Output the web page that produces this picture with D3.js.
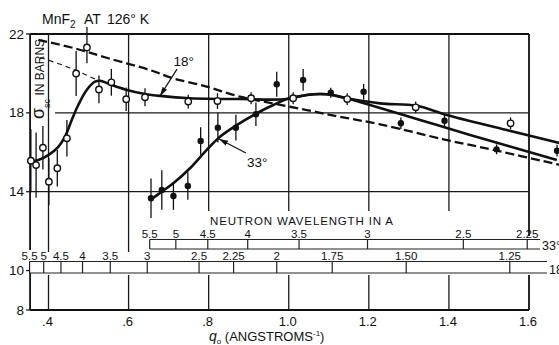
<!DOCTYPE html>
<html>
<head>
  <meta charset="UTF-8">
  <title>MnF2 at 126 K - scattering cross section</title>
  <script src="https://d3js.org/d3.v7.min.js"></script>
  <style>
    body { margin: 0; background: #fff; }
    svg { display: block; font-family: "Liberation Sans", Arial, sans-serif; }
    .lbl { fill: #111; }
    .grid { stroke: #1a1a1a; stroke-width: 1.3; fill: none; }
    .frame { stroke: #111; stroke-width: 1.8; fill: none; }
    .curve { stroke: #111; stroke-width: 2.6; fill: none; }
    .dash-thick { stroke: #111; stroke-width: 2.3; fill: none; stroke-dasharray: 9 4; }
    .dash-thin { stroke: #111; stroke-width: 1.1; fill: none; stroke-dasharray: 5 4; }
    .err { stroke: #111; stroke-width: 1.3; }
    .scale-line { stroke: #222; stroke-width: 1.2; fill: none; }
  </style>
</head>
<body>
  <div id="chart"></div>
  <script>
    // ---- data ----
    const xTicks = [0.4, 0.6, 0.8, 1.0, 1.2, 1.4, 1.6];
    const xTickLabels = [".4", ".6", ".8", "1.0", "1.2", "1.4", "1.6"];
    const yTicks = [8, 10, 14, 18, 22];

    // wavelength scales (angstrom), q = c / lambda for each scattering angle
    const lambda33 = [5.5, 5, 4.5, 4, 3.5, 3, 2.5, 2.25];
    const lambda33Labels = ["5.5", "5", "4.5", "4", "3.5", "3", "2.5", "2.25"];
    const lambda18 = [5.5, 5, 4.5, 4, 3.5, 3, 2.5, 2.25, 2, 1.75, 1.5, 1.25];
    const lambda18Labels = ["5.5", "5", "4.5", "4", "3.5", "3", "2.5", "2.25", "2", "1.75", "1.50", "1.25"];
    const c33 = 3.59;
    const c18 = 1.94;

    // open circles, 18 deg: [q, sigma, error]
    const points18 = [
      [0.356, 15.57, 1.6], [0.369, 15.35, 1.65], [0.386, 16.23, 1.1], [0.401, 14.51, 1.2],
      [0.422, 15.19, 0.93], [0.446, 16.71, 0.93], [0.469, 20.0, 1.14], [0.496, 21.32, 0.8],
      [0.526, 19.19, 0.7], [0.557, 19.55, 0.68], [0.594, 18.69, 0.6], [0.641, 18.79, 0.46],
      [0.749, 18.57, 0.35], [0.822, 18.6, 0.4], [0.906, 18.74, 0.3], [1.011, 18.74, 0.3],
      [1.146, 18.7, 0.3], [1.317, 18.28, 0.3], [1.554, 17.47, 0.3]
    ];
    // filled circles, 33 deg: [q, sigma, error]
    const points33 = [
      [0.656, 13.67, 1.0], [0.683, 14.09, 1.0], [0.712, 13.78, 0.7], [0.748, 14.29, 0.7],
      [0.780, 16.57, 0.7], [0.823, 17.25, 0.75], [0.868, 17.25, 0.65], [0.918, 17.93, 0.6],
      [0.970, 19.45, 0.63], [1.036, 19.67, 0.55], [1.105, 19.02, 0.25], [1.187, 19.07, 0.4],
      [1.280, 17.47, 0.3], [1.389, 17.6, 0.3], [1.519, 16.15, 0.25], [1.670, 16.08, 0.3]
    ];

    const curve18 = [
      [0.354, 15.52], [0.3745, 15.61], [0.3995, 15.86], [0.4245, 16.28], [0.4412, 16.79],
      [0.458, 17.64], [0.4744, 18.40], [0.4954, 19.16], [0.5161, 19.58], [0.5286, 19.63],
      [0.5578, 19.41], [0.5911, 19.19], [0.641, 18.96], [0.6785, 18.86], [0.7534, 18.74],
      [0.8783, 18.70], [0.9949, 18.70], [1.0449, 18.91], [1.0948, 18.94], [1.1448, 18.74],
      [1.2279, 18.48], [1.3196, 18.36], [1.3945, 17.89], [1.5444, 17.13], [1.6775, 16.46]
    ];
    const curve33 = [
      [0.6538, 13.58], [0.6827, 14.00], [0.7117, 14.43], [0.7534, 15.19], [0.7951, 16.12],
      [0.8283, 16.79], [0.87, 17.38], [0.92, 17.98], [0.9614, 18.40], [0.9949, 18.70],
      [1.0449, 18.91], [1.0948, 18.94], [1.1448, 18.74], [1.203, 18.40], [1.328, 17.64],
      [1.453, 16.88], [1.6695, 15.61]
    ];
    const dashedUpper = [
      [0.3745, 21.70], [0.4662, 21.27], [0.5494, 20.77], [0.6535, 20.17], [0.7117, 19.75],
      [0.7951, 19.33], [0.8783, 18.82], [0.9614, 18.48], [1.0449, 18.14], [1.128, 17.80],
      [1.2279, 17.42], [1.386, 16.66], [1.511, 16.12], [1.6775, 15.36]
    ];
    const dashedLow = [[0.379, 20.81], [0.454, 20.28], [0.521, 19.67]];

    // ---- layout ----
    const width = 559, height = 345;
    const qLeft = 0.354;

    const svg = d3.select("#chart").append("svg")
        .attr("width", width)
        .attr("height", height);

    const x = d3.scaleLinear().domain([0.4, 1.6]).range([48.5, 529]);
    const y = d3.scaleLinear().domain([8, 22]).range([310, 34]);

    const box33 = {top: 239.5, bottom: 249};
    const box18 = {top: 261.5, bottom: 273};

    svg.append("defs").append("marker")
        .attr("id", "arrow")
        .attr("viewBox", "0 0 10 6")
        .attr("refX", 10).attr("refY", 3)
        .attr("markerWidth", 9).attr("markerHeight", 6)
        .attr("markerUnits", "userSpaceOnUse")
        .attr("orient", "auto")
      .append("path")
        .attr("d", "M0,0 L10,3 L0,6 z")
        .attr("fill", "#111");

    // ---- grid + frame ----
    function gridStop(q) {
      if (q < 0.65) return 252;
      if (q > 1.5) return 236;
      return 211;
    }
    xTicks.forEach(q => {
      svg.append("line").attr("class", q === 1.6 ? "frame" : "grid")
          .attr("x1", x(q)).attr("x2", x(q))
          .attr("y1", y(22)).attr("y2", gridStop(q));
      svg.append("line").attr("class", q === 1.6 ? "frame" : "grid")
          .attr("x1", x(q)).attr("x2", x(q))
          .attr("y1", box18.bottom + 2).attr("y2", y(8));
    });
    // horizontal grid
    svg.append("line").attr("class", "grid")
        .attr("x1", 55).attr("x2", x(1.6)).attr("y1", y(18)).attr("y2", y(18));
    svg.append("line").attr("class", "grid")
        .attr("x1", x(qLeft)).attr("x2", x(1.6)).attr("y1", y(14)).attr("y2", y(14));
    // top + bottom border
    svg.append("line").attr("class", "frame")
        .attr("x1", x(qLeft)).attr("x2", x(1.6)).attr("y1", y(22)).attr("y2", y(22));
    svg.append("line").attr("class", "frame")
        .attr("x1", x(qLeft)).attr("x2", x(1.6)).attr("y1", y(8)).attr("y2", y(8));
    // left axis, broken by the 18 deg scale labels
    svg.append("line").attr("class", "frame")
        .attr("x1", x(qLeft)).attr("x2", x(qLeft)).attr("y1", y(22)).attr("y2", 250);
    svg.append("line").attr("class", "frame")
        .attr("x1", x(qLeft)).attr("x2", x(qLeft)).attr("y1", box18.top).attr("y2", y(8));

    // y ticks + labels
    yTicks.forEach(v => {
      svg.append("line").attr("class", "grid")
          .attr("x1", x(qLeft) - 4).attr("x2", x(qLeft)).attr("y1", y(v)).attr("y2", y(v));
      svg.append("text").attr("class", "lbl")
          .attr("x", 24).attr("y", y(v) + 4.5)
          .attr("text-anchor", "end")
          .attr("font-size", 13.5)
          .text(v);
    });

    // x tick labels
    xTicks.forEach((q, i) => {
      svg.append("text").attr("class", "lbl")
          .attr("x", x(q) - 1).attr("y", 326)
          .attr("text-anchor", "middle")
          .attr("font-size", 13)
          .text(xTickLabels[i]);
    });

    // x axis title
    const xt = svg.append("text").attr("class", "lbl")
        .attr("x", 209).attr("y", 341).attr("font-size", 13);
    xt.append("tspan").attr("font-style", "italic").attr("font-size", 14).text("q");
    xt.append("tspan").attr("font-size", 8).attr("dy", 3).text("o");
    xt.append("tspan").attr("dy", -3).text(" (ANGSTROMS");
    xt.append("tspan").attr("font-size", 8).attr("dy", -5).text("-1");
    xt.append("tspan").attr("dy", 5).text(")");

    // y axis title (rotated)
    const yt = svg.append("text").attr("class", "lbl")
        .attr("transform", "translate(43.5,119) rotate(-90)")
        .attr("font-size", 12);
    yt.append("tspan").attr("font-size", 18).text("σ");
    yt.append("tspan").attr("font-size", 9).attr("dy", 6).text("sc");
    yt.append("tspan").attr("dy", -6).text(" IN BARNS");

    // title
    const tt = svg.append("text").attr("class", "lbl")
        .attr("x", 42).attr("y", 24).attr("font-size", 14);
    tt.append("tspan").text("MnF");
    tt.append("tspan").attr("font-size", 10).attr("dy", 4).text("2");
    tt.append("tspan").attr("dy", -4).attr("x", 84).text("AT");
    tt.append("tspan").attr("x", 107).text("126° K");

    // ---- wavelength scales ----
    svg.append("text").attr("class", "lbl")
        .attr("x", 210).attr("y", 224.5)
        .attr("font-size", 11.5)
        .attr("textLength", 183)
        .attr("lengthAdjust", "spacing")
        .text("NEUTRON  WAVELENGTH  IN  A");

    function drawScale(lams, labels, c, box, xEnd, tag) {
      const xs = lams.map(l => x(c / l));
      const x0 = d3.min(xs);
      svg.append("rect")
          .attr("x", x0).attr("y", box.top)
          .attr("width", xEnd - x0).attr("height", box.bottom - box.top)
          .attr("fill", "#fff").attr("stroke", "none");
      [box.top, box.bottom].forEach(yy => {
        svg.append("line").attr("class", "scale-line")
            .attr("x1", x0).attr("x2", xEnd).attr("y1", yy).attr("y2", yy);
      });
      xs.forEach((px, i) => {
        svg.append("line").attr("class", "scale-line")
            .attr("x1", px).attr("x2", px).attr("y1", box.top).attr("y2", box.bottom);
        svg.append("text").attr("class", "lbl")
            .attr("x", px).attr("y", box.top - 2)
            .attr("text-anchor", "middle")
            .attr("font-size", 11.5)
            .text(labels[i]);
      });
      svg.append("text").attr("class", "lbl")
          .attr("x", xEnd + 2).attr("y", box.bottom + 1)
          .attr("font-size", 12.5)
          .text(tag);
    }
    drawScale(lambda33, lambda33Labels, c33, box33, 540, "33°");
    drawScale(lambda18, lambda18Labels, c18, box18, 547, "18°");

    // ---- curves ----
    const line = d3.line()
        .x(d => x(d[0]))
        .y(d => y(d[1]))
        .curve(d3.curveCatmullRom.alpha(0.5));

    svg.append("path").attr("class", "dash-thick").attr("d", line(dashedUpper));
    svg.append("path").attr("class", "dash-thin").attr("d", line(dashedLow));
    svg.append("path").attr("class", "curve").attr("d", line(curve18));
    svg.append("path").attr("class", "curve").attr("d", line(curve33));

    // ---- error bars + points ----
    const allPts = points18.concat(points33);
    svg.selectAll("line.errbar")
      .data(allPts)
      .enter().append("line")
        .attr("class", "err errbar")
        .attr("x1", d => x(d[0])).attr("x2", d => x(d[0]))
        .attr("y1", d => y(d[1] + d[2])).attr("y2", d => y(d[1] - d[2]));

    svg.selectAll("circle.p18")
      .data(points18)
      .enter().append("circle")
        .attr("class", "p18")
        .attr("cx", d => x(d[0])).attr("cy", d => y(d[1]))
        .attr("r", 3.2)
        .attr("fill", "#fff").attr("stroke", "#111").attr("stroke-width", 1.4);

    svg.selectAll("circle.p33")
      .data(points33)
      .enter().append("circle")
        .attr("class", "p33")
        .attr("cx", d => x(d[0])).attr("cy", d => y(d[1]))
        .attr("r", 3.2)
        .attr("fill", "#111");

    // title leader to the high point
    const hi = points18[7];
    svg.append("line").attr("class", "err")
        .attr("x1", x(hi[0])).attr("x2", x(hi[0]))
        .attr("y1", 27).attr("y2", y(hi[1] + hi[2]));

    // ---- curve annotations ----
    const notes = [
      {text: "18°", at: [0.712, 20.38], from: [0.721, 20.22], to: [0.6785, 18.86]},
      {text: "33°", at: [0.896, 15.25], from: [0.893, 15.96], to: [0.826, 16.67]}
    ];
    notes.forEach(n => {
      svg.append("text").attr("class", "lbl")
          .attr("x", x(n.at[0])).attr("y", y(n.at[1]))
          .attr("font-size", 13.5)
          .text(n.text);
      svg.append("line")
          .attr("x1", x(n.from[0])).attr("y1", y(n.from[1]))
          .attr("x2", x(n.to[0])).attr("y2", y(n.to[1]))
          .attr("stroke", "#111").attr("stroke-width", 1.2)
          .attr("marker-end", "url(#arrow)");
    });
  </script>
</body>
</html>
